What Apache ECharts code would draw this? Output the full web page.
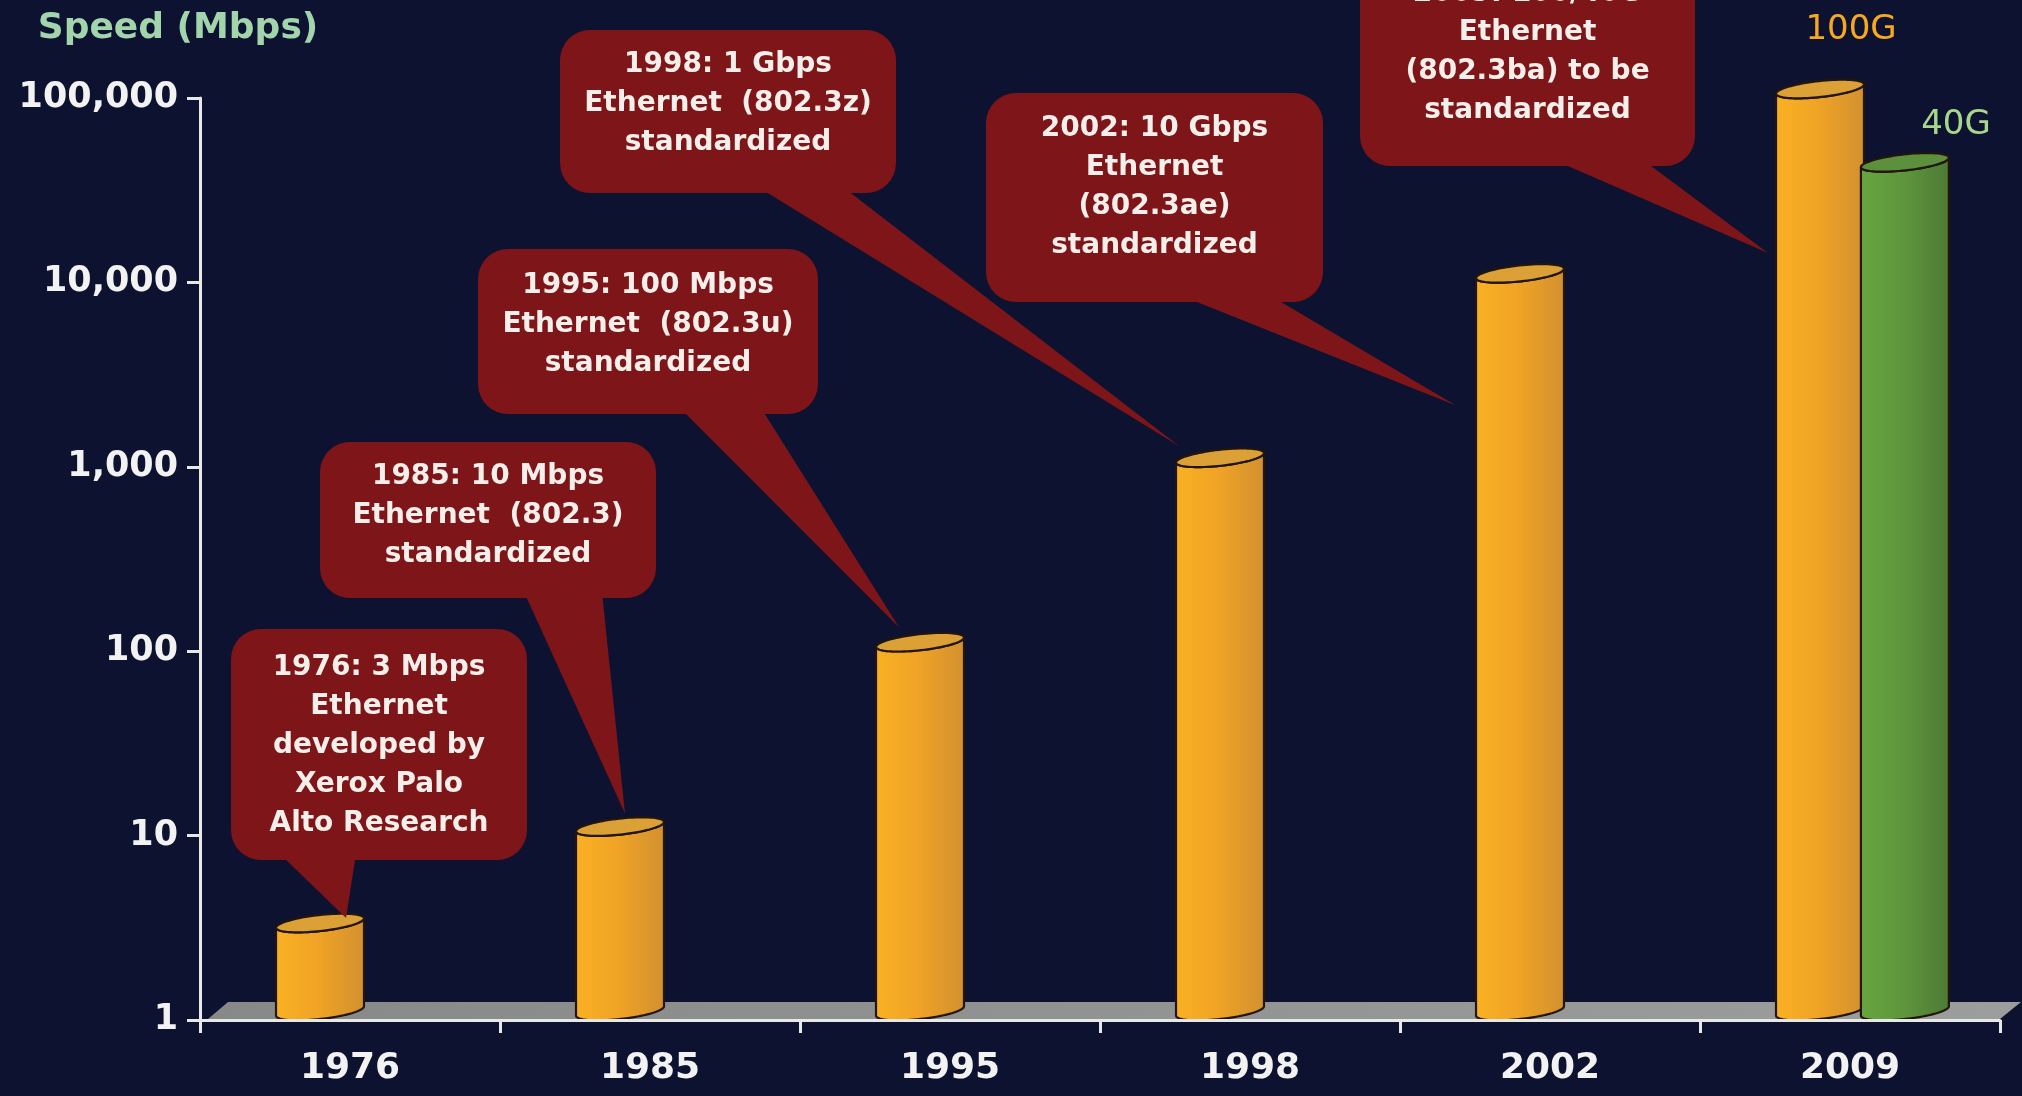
<!DOCTYPE html>
<html>
<head>
<meta charset="utf-8">
<title>Ethernet speed by year</title>
<script src="https://cdn.jsdelivr.net/npm/echarts@6/dist/echarts.min.js"></script>
<style>
  html, body { margin: 0; padding: 0; background: #0d1230; }
  #chart { width: 2022px; height: 1096px; }
</style>
</head>
<body>
<div id="chart"></div>
<script>
// ---- data ----
const years = ['1976', '1985', '1995', '1998', '2002', '2009'];
const speedMbps = [3, 10, 100, 1000, 10000, 100000];      // main series (100G in 2009)
const speed40G = [null, null, null, null, null, 40000];   // 40G Ethernet, 2009 only
const yTickValues = [1, 10, 100, 1000, 10000, 100000];
const calloutTexts = [
  '1976: 3 Mbps\nEthernet\ndeveloped by\nXerox Palo\nAlto Research',
  '1985: 10 Mbps\nEthernet  (802.3)\nstandardized',
  '1995: 100 Mbps\nEthernet  (802.3u)\nstandardized',
  '1998: 1 Gbps\nEthernet  (802.3z)\nstandardized',
  '2002: 10 Gbps\nEthernet\n(802.3ae)\nstandardized',
  '2009: 100/40G\nEthernet\n(802.3ba) to be\nstandardized'
];

// ---- layout / styling ----
// callout boxes: [x, y, w, h], text centre y, tail base [x1, x2], tip offset from the bar top [dx, dy]
const calloutLayout = [
  { box: [231, 629, 296, 231], textY: 746, base: [280, 356], tip: [26, -14] },
  { box: [320, 442, 336, 156], textY: 516, base: [524, 602], tip: [5, -22] },
  { box: [478, 249, 340, 165], textY: 325, base: [680, 761], tip: [-21, -24] },
  { box: [560, 30, 336, 163], textY: 104, base: [758, 843], tip: [-40, -20] },
  { box: [986, 93, 337, 209], textY: 187, base: [1182, 1271], tip: [-64, 123] },
  { box: [1360, -55, 335, 221], textY: 52, base: [1554, 1643], tip: [-52, 155] }
];
const BAR_OFFSET_MAIN = -0.10;   // fraction of the category band
const BAR_OFFSET_40G = 0.183;
const BAR_WIDTH = 0.295;
const LIFT = 9;                  // 3D depth shift of the bar ellipses
const CALLOUT_RED = '#7e1518';
const AXIS_COLOR = '#e8e8e8';

const orangeStyle = {
  body: [[0, '#f9b123'], [0.45, '#f1a425'], [1, '#d2902f']],
  top: '#dba137'
};
const greenStyle = {
  body: [[0, '#68a640'], [0.5, '#5d953c'], [1, '#4d7935']],
  top: '#5c903c'
};

function ellipsePoint(cx, cy, rx, ry, rot, t) {
  const c = Math.cos(t), s = Math.sin(t), cr = Math.cos(rot), sr = Math.sin(rot);
  return [cx + rx * c * cr - ry * s * sr, cy + rx * c * sr + ry * s * cr];
}

function cylinderRenderer(offsetFrac, style) {
  return function (params, api) {
    const cat = api.value(0);
    const val = api.value(1);
    if (val == null || isNaN(val)) return;
    const band = api.size([1, 0])[0];
    const top = api.coord([cat, val]);
    const base = api.coord([cat, 1]);
    const cx = top[0] + band * offsetFrac;
    const w = band * BAR_WIDTH;
    const rx = w / 2, ry = 8, rot = -0.11;
    const yt = top[1] - LIFT;
    const yb = base[1] - LIFT;
    const N = 40;
    const body = [];
    body.push(ellipsePoint(cx, yt, rx, ry, rot, Math.PI));
    for (let i = 0; i <= N; i++) {
      body.push(ellipsePoint(cx, yb, rx, ry, rot, Math.PI - Math.PI * i / N));
    }
    for (let i = 0; i <= N; i++) {
      body.push(ellipsePoint(cx, yt, rx, ry, rot, Math.PI * i / N));
    }
    const cap = [];
    for (let i = 0; i < 2 * N; i++) {
      cap.push(ellipsePoint(cx, yt, rx, ry, rot, Math.PI * i / N));
    }
    return {
      type: 'group',
      children: [
        {
          type: 'polygon',
          shape: { points: body },
          style: {
            fill: new echarts.graphic.LinearGradient(0, 0, 1, 0,
              style.body.map(s => ({ offset: s[0], color: s[1] }))),
            stroke: '#22160a',
            lineWidth: 2.2,
            lineJoin: 'round'
          }
        },
        {
          type: 'polygon',
          shape: { points: cap },
          style: { fill: style.top, stroke: '#22160a', lineWidth: 2.2 }
        }
      ]
    };
  };
}

function renderFloor(params) {
  const cs = params.coordSys;
  const yb = cs.y + cs.height - 1;
  const ytop = yb - 17;
  return {
    type: 'polygon',
    shape: {
      points: [[cs.x + 8, yb], [cs.x + 28, ytop], [cs.x + cs.width + 21, ytop], [cs.x + cs.width, yb]]
    },
    style: {
      fill: new echarts.graphic.LinearGradient(0, 0, 1, 0, [
        { offset: 0, color: '#878989' }, { offset: 1, color: '#9c9e9e' }
      ])
    }
  };
}

function renderCallout(params, api) {
  const i = params.dataIndex;
  const lay = calloutLayout[i];
  const cat = api.value(0);
  const val = api.value(1);
  const band = api.size([1, 0])[0];
  const top = api.coord([cat, val]);
  const tipX = top[0] + band * BAR_OFFSET_MAIN + lay.tip[0];
  const tipY = top[1] + lay.tip[1];
  const [bx, by, bw, bh] = lay.box;
  const bottom = by + bh;
  return {
    type: 'group',
    children: [
      {
        type: 'polygon',
        shape: { points: [[lay.base[0], bottom - 6], [lay.base[1], bottom - 6], [tipX, tipY]] },
        style: { fill: CALLOUT_RED }
      },
      {
        type: 'rect',
        shape: { x: bx, y: by, width: bw, height: bh, r: 30 },
        style: { fill: CALLOUT_RED }
      },
      {
        type: 'text',
        style: {
          text: calloutTexts[i],
          x: bx + bw / 2,
          y: lay.textY,
          align: 'center',
          verticalAlign: 'middle',
          fill: '#f4efea',
          font: 'bold 28px "DejaVu Sans"',
          lineHeight: 39
        }
      }
    ]
  };
}

const chart = echarts.init(document.getElementById('chart'));

chart.setOption({
  backgroundColor: '#0d1230',
  animation: false,
  grid: { left: 200, right: 22, top: 98, bottom: 76, containLabel: false },
  xAxis: {
    type: 'category',
    data: years,
    boundaryGap: true,
    axisLine: { show: true, lineStyle: { color: AXIS_COLOR, width: 3 } },
    axisTick: { show: true, length: 13, alignWithLabel: false, lineStyle: { color: AXIS_COLOR, width: 3 } },
    axisLabel: {
      color: '#f2f2f2',
      fontFamily: 'DejaVu Sans',
      fontWeight: 'bold',
      fontSize: 36,
      margin: 31
    },
    splitLine: { show: false },
    z: 5
  },
  yAxis: {
    type: 'log',
    logBase: 10,
    min: yTickValues[0],
    max: yTickValues[yTickValues.length - 1],
    splitNumber: yTickValues.length - 1,
    axisLine: { show: true, lineStyle: { color: AXIS_COLOR, width: 3 } },
    axisTick: { show: true, length: 13, lineStyle: { color: AXIS_COLOR, width: 3 } },
    axisLabel: {
      color: '#f2f2f2',
      fontFamily: 'DejaVu Sans',
      fontWeight: 'bold',
      fontSize: 35,
      margin: 22,
      formatter: v => Number(v).toLocaleString('en-US')
    },
    splitLine: { show: false },
    z: 5
  },
  graphic: [
    {
      type: 'text', x: 178, y: 29,
      style: { text: 'Speed (Mbps)', fill: '#a3d5ad', font: 'bold 36px "DejaVu Sans"', align: 'center', verticalAlign: 'middle' }
    },
    {
      type: 'text', x: 1851, y: 30,
      style: { text: '100G', fill: '#f6a81f', font: '34px "DejaVu Sans"', align: 'center', verticalAlign: 'middle' }
    },
    {
      type: 'text', x: 1956, y: 125,
      style: { text: '40G', fill: '#a8d68c', font: '34px "DejaVu Sans"', align: 'center', verticalAlign: 'middle' }
    }
  ],
  series: [
    {
      name: 'floor',
      type: 'custom',
      renderItem: renderFloor,
      data: [[0, 1]],
      silent: true,
      z: 1
    },
    {
      name: 'Ethernet',
      type: 'custom',
      renderItem: cylinderRenderer(BAR_OFFSET_MAIN, orangeStyle),
      encode: { x: 0, y: 1 },
      data: speedMbps.map((v, i) => [i, v]),
      z: 2
    },
    {
      name: '40G',
      type: 'custom',
      renderItem: cylinderRenderer(BAR_OFFSET_40G, greenStyle),
      encode: { x: 0, y: 1 },
      data: speed40G.map((v, i) => [i, v]).filter(d => d[1] != null),
      z: 2
    },
    {
      name: 'callouts',
      type: 'custom',
      renderItem: renderCallout,
      encode: { x: 0, y: 1 },
      data: speedMbps.map((v, i) => [i, v]),
      silent: true,
      z: 3
    }
  ]
});
</script>
</body>
</html>
